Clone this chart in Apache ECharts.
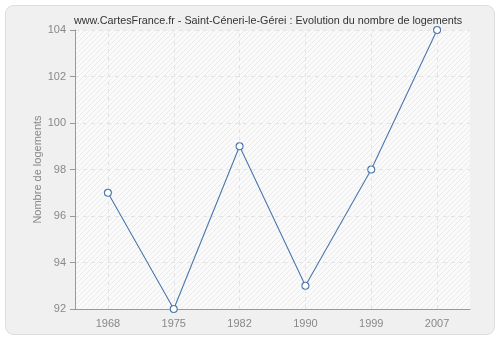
<!DOCTYPE html>
<html><head><meta charset="utf-8">
<script src="https://cdn.jsdelivr.net/npm/echarts@6/dist/echarts.min.js"></script>
<style>html,body{margin:0;padding:0;background:#fff}#c{width:500px;height:340px}</style>
</head><body><div id="c"></div>
<script>
var categories = ['1968','1975','1982','1990','1999','2007'];
var values = [97, 92, 99, 93, 98, 104];
var titleText = 'www.CartesFrance.fr - Saint-Céneri-le-Gérei : Evolution du nombre de logements';
var yName = 'Nombre de logements';

var pc = document.createElement('canvas');
pc.width = 5; pc.height = 5;
var ctx = pc.getContext('2d');
ctx.fillStyle = '#fafafa'; ctx.fillRect(0,0,5,5);
ctx.strokeStyle = '#ebebeb'; ctx.lineWidth = 1;
ctx.beginPath(); ctx.moveTo(0,5); ctx.lineTo(5,0); ctx.moveTo(-1,1); ctx.lineTo(1,-1); ctx.moveTo(4,6); ctx.lineTo(6,4); ctx.stroke();

var FONT = 'Liberation Sans';
var chart = echarts.init(document.getElementById('c'), null, {renderer:'canvas'});
chart.setOption({
  animation: false,
  backgroundColor: '#ffffff',
  graphic: [{type:'rect', z:-10, shape:{x:5.5,y:5.5,width:489,height:329,r:8}, style:{fill:'#f0f0f0', stroke:'#dddddd', lineWidth:1}}],
  title: {text: titleText, left: 69, top: 11, textStyle:{fontFamily:FONT, fontSize:10.8, fontWeight:'normal', color:'#333'}},
  grid: {left:75, right:30, top:30, bottom:31, show:true, backgroundColor:{image:pc, repeat:'repeat'}, borderWidth:0},
  xAxis: {type:'category', data: categories, boundaryGap:true,
    axisLine:{lineStyle:{color:'#999'}}, axisTick:{alignWithLabel:true, length:5, lineStyle:{color:'#999'}},
    axisLabel:{color:'#888', fontFamily:FONT, fontSize:11, margin:9},
    splitLine:{show:false}},
  yAxis: {type:'value', min:92, max:104, interval:2, name:yName, nameLocation:'middle', nameGap:32, nameMoveOverlap:false,
    nameTextStyle:{color:'#888', fontFamily:FONT, fontSize:11},
    axisLine:{show:true, lineStyle:{color:'#999'}}, axisTick:{show:true, length:5, lineStyle:{color:'#999'}},
    axisLabel:{color:'#888', fontFamily:FONT, fontSize:11, margin:9},
    splitLine:{show:true, lineStyle:{color:'#e3e3e3', type:[4,4]}}},
  series: [{type:'line', data: values, symbol:'circle', symbolSize:7, z:3,
    lineStyle:{color:'#4a78ad', width:1.1}, itemStyle:{color:'#ffffff', borderColor:'#4a78ad', borderWidth:1.1},
    markLine:{silent:true, symbol:'none', label:{show:false}, z:1,
      lineStyle:{color:'#e3e3e3', type:[4,4], width:1},
      data: categories.map(function(c){return {xAxis:c};})}
  }]
});
</script></body></html>
